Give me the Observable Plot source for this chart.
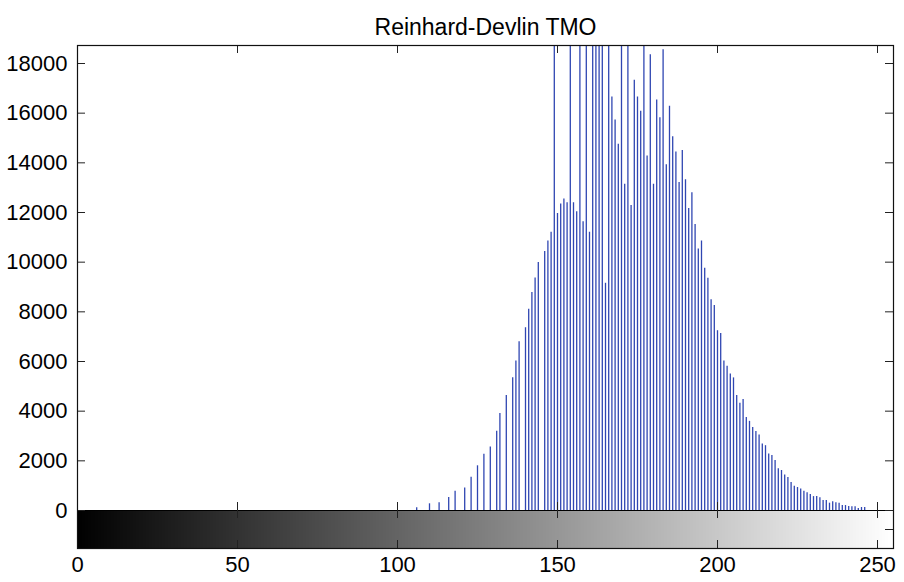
<!DOCTYPE html>
<html><head><meta charset="utf-8">
<script src="https://cdn.jsdelivr.net/npm/d3@7"></script>
<script src="https://cdn.jsdelivr.net/npm/@observablehq/plot@0.6"></script>
<style>body{margin:0;background:#fff} #chart svg{display:block}</style>
</head><body><div id="chart"></div>
<script>
const title = "Reinhard-Devlin TMO";
const bins = [106,110,113,116,118,121,123,125,127,129,131,132,134,136,137,138,140,141,142,143,144,
  146,147,148,149,150,151,152,153,154,155,156,157,158,159,160,161,162,163,164,165,166,167,168,169,
  170,171,172,173,174,175,176,177,178,179,180,181,182,183,184,185,186,187,188,189,190,191,192,193,
  194,195,196,197,198,199,200,201,202,203,204,205,206,207,208,209,210,211,212,213,214,215,216,217,
  218,219,220,221,222,223,224,225,226,227,228,229,230,231,232,233,234,235,236,237,238,239,240,241,
  242,243,244,245,246];
const counts = [110,270,310,520,780,910,1340,1800,2270,2560,3190,3910,4630,5350,6020,6800,7360,8100,8780,9360,9990,
  10430,10850,11200,24000,11960,12340,12540,12390,23000,12390,12030,22000,11630,21000,11200,22500,21500,20500,21000,9150,20000,16650,15720,14750,
  20500,13140,19500,12280,17330,16650,16080,19000,14280,18350,13140,16530,15820,18550,13920,16280,15050,14440,13210,14500,13320,12160,12800,11520,
  10530,10850,9760,9350,8490,8260,7240,7130,6020,5810,5500,5340,4630,4320,4470,3750,3590,3340,3180,3040,2680,2610,2280,2210,
  2010,1680,1610,1430,1330,1130,980,925,870,780,710,640,560,560,510,400,400,295,350,310,295,200,200,160,
  150,150,80,120,120];
const grayLevels = d3.range(256);
const xTicks = [0, 50, 100, 150, 200, 250];
const yTicks = [0, 2000, 4000, 6000, 8000, 10000, 12000, 14000, 16000, 18000];
const yMin = -1530, yMax = 18725;
const xMin = 0, xMax = 255;

const data = bins.map((b, i) => ({bin: b, count: counts[i]}));
const font = '"Liberation Sans", Arial, sans-serif';
const tk = -8;

const chart = Plot.plot({
  width: 904, height: 582,
  marginLeft: 77, marginRight: 11, marginTop: 45, marginBottom: 34,
  style: {fontFamily: font, background: "white", color: "black"},
  x: {domain: [xMin, xMax], label: null},
  y: {domain: [yMin, yMax], label: null},
  color: {type: "identity"},
  marks: [
    Plot.rect(grayLevels, {x1: d => d - 0.5, x2: d => d + 0.5, y1: yMin, y2: 0,
      fill: d => `rgb(${d},${d},${d})`, clip: true, shapeRendering: "crispEdges"}),
    Plot.ruleX(data, {x: "bin", y1: 0, y2: "count", stroke: "#2f46b2", strokeWidth: 1.3, clip: true}),
    Plot.ruleY([0], {stroke: "black", strokeWidth: 1.2}),
    // inward ticks
    Plot.ruleY(yTicks, {y: d => d, x1: xMin, x2: xMin, insetRight: tk, stroke: "#222"}),
    Plot.ruleY(yTicks, {y: d => d, x1: xMax, x2: xMax, insetLeft: tk, stroke: "#222"}),
    Plot.ruleY([yMin / 2], {y: d => d, x1: xMax, x2: xMax, insetLeft: tk, stroke: "#222"}),
    Plot.ruleX(xTicks, {x: d => d, y1: yMax, y2: yMax, insetBottom: tk, stroke: "#222"}),
    Plot.ruleX(xTicks, {x: d => d, y1: 0, y2: 0, insetTop: tk, insetBottom: tk, stroke: "#222"}),
    Plot.ruleX(xTicks, {x: d => d, y1: yMin, y2: yMin, insetTop: tk, stroke: "#222"}),
    Plot.frame({stroke: "#111", strokeWidth: 1.2}),
    Plot.axisY(yTicks, {tickSize: 0, tickPadding: 10, fontSize: 22, label: null, tickFormat: d3.format("d")}),
    Plot.axisX(xTicks, {tickSize: 0, tickPadding: 8, fontSize: 22, label: null, tickFormat: d3.format("d")}),
    Plot.text([title], {frameAnchor: "top", dy: -27, fontSize: 23})
  ]
});
document.getElementById("chart").append(chart);
</script>
</body></html>
